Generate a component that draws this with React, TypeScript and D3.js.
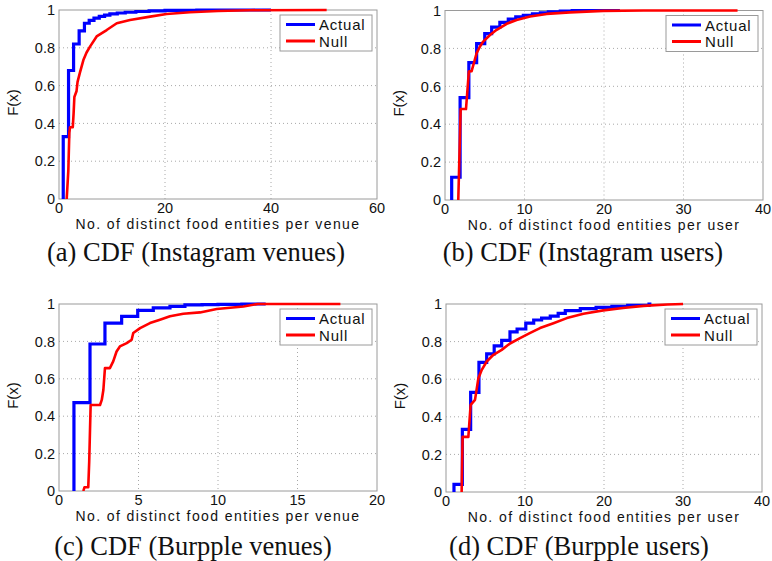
import React from "react";
import * as d3 from "d3";

// ---------- data ----------
const yTicks = [0, 0.2, 0.4, 0.6, 0.8, 1];
const yTickLabels = ["0", "0.2", "0.4", "0.6", "0.8", "1"];

const aXTicks = [0, 20, 40, 60];
const aActualX = [0.8, 1.8, 2.75, 3.8, 4.8, 5.7, 6.6, 7.6, 8.6, 9.6, 11, 12.5, 14.5, 17, 20, 26, 40];
const aActualY = [0.33, 0.68, 0.82, 0.89, 0.93, 0.945, 0.957, 0.966, 0.973, 0.979, 0.984, 0.988, 0.992, 0.995, 0.998, 1.0, 1.0];
const aNullX = [1.45, 1.76, 1.95, 2.08, 2.6, 2.75, 2.9, 3.3, 3.5, 3.96, 4.6, 5.2, 5.85, 7.1, 9.0, 10.9, 13.4, 17.2, 20.3, 24.7, 30, 36, 50.5];
const aNullY = [0, 0.15, 0.35, 0.38, 0.38, 0.45, 0.54, 0.57, 0.62, 0.67, 0.735, 0.775, 0.806, 0.86, 0.894, 0.93, 0.947, 0.965, 0.979, 0.988, 0.995, 0.999, 1.0];

const bXTicks = [0, 10, 20, 30, 40];
const bActualX = [0.84, 1.9, 3.0, 3.98, 5.0, 5.87, 6.9, 7.96, 8.9, 9.85, 11, 12, 13, 14.5, 16, 22];
const bActualY = [0.12, 0.54, 0.725, 0.825, 0.878, 0.912, 0.937, 0.955, 0.966, 0.975, 0.982, 0.988, 0.993, 0.997, 1.0, 1.0];
const bNullX = [1.67, 1.97, 2.64, 3.0, 3.35, 3.98, 4.4, 4.8, 5.66, 6.5, 7.76, 9.0, 10.7, 12.8, 15.7, 19.9, 25, 36.8];
const bNullY = [0, 0.48, 0.48, 0.678, 0.68, 0.775, 0.81, 0.836, 0.871, 0.898, 0.93, 0.95, 0.968, 0.982, 0.99, 0.998, 1.0, 1.0];

const cXTicks = [0, 5, 10, 15, 20];
const cActualX = [0.94, 1.95, 2.89, 3.94, 4.95, 5.93, 6.98, 7.92, 9, 10, 11.5, 13];
const cActualY = [0.473, 0.786, 0.898, 0.934, 0.966, 0.979, 0.987, 0.995, 0.997, 0.998, 1.0, 1.0];
const cNullX = [1.53, 1.6, 1.84, 1.9, 1.99, 2.58, 2.69, 2.79, 2.89, 3.2, 3.41, 3.62, 3.83, 4.26, 4.57, 4.67, 5.1, 5.72, 6.35, 6.98, 7.82, 8.87, 9.92, 11.6, 12.5, 17.7];
const cNullY = [0, 0.02, 0.02, 0.157, 0.46, 0.46, 0.487, 0.54, 0.657, 0.657, 0.693, 0.746, 0.773, 0.791, 0.809, 0.845, 0.871, 0.898, 0.916, 0.934, 0.948, 0.955, 0.973, 0.987, 1.0, 1.0];

const dXTicks = [0, 10, 20, 30, 40];
const dActualX = [1.01, 2.07, 3.12, 4.17, 5.15, 6.1, 7.05, 8.1, 9.0, 10.1, 11.1, 12.1, 13.2, 14.2, 15.1, 17, 19, 21, 23, 25.7, 26];
const dActualY = [0.041, 0.333, 0.53, 0.69, 0.735, 0.777, 0.806, 0.852, 0.867, 0.898, 0.915, 0.925, 0.935, 0.95, 0.965, 0.975, 0.982, 0.987, 0.993, 1.0, 1.0];
const dNullX = [1.98, 2.1, 2.83, 3.12, 3.67, 4.1, 4.53, 5.15, 6.0, 7.05, 8.1, 9.37, 10.6, 11.9, 13.6, 15.3, 17.4, 19.9, 22.4, 25, 28, 30];
const dNullY = [0, 0.293, 0.293, 0.463, 0.49, 0.605, 0.65, 0.694, 0.73, 0.756, 0.79, 0.818, 0.845, 0.872, 0.898, 0.925, 0.948, 0.966, 0.979, 0.99, 0.997, 1.0];

const seriesNames = ["Actual", "Null"];
const xLabelVenue = "No. of distinct food entities per venue";
const xLabelUser = "No. of distinct food entities per user";
const captions = [
  "(a) CDF (Instagram venues)",
  "(b) CDF (Instagram users)",
  "(c) CDF (Burpple venues)",
  "(d) CDF (Burpple users)",
];

// ---------- styling ----------
const SANS = "'Liberation Sans', Arial, Helvetica, sans-serif";
const SERIF = "'Liberation Serif', 'Times New Roman', serif";
const BLUE = "#0000ff";
const RED = "#ff0000";
const INK = "#111";

type PanelProps = {
  left: number; right: number; top: number; bottom: number;
  xMax: number; xTicks: number[];
  actualX: number[]; actualY: number[];
  nullX: number[]; nullY: number[];
  xLabel: string; caption: string; capX: number; capY: number; yLabelX: number;
};

function Panel(p: PanelProps) {
  const x = d3.scaleLinear().domain([0, p.xMax]).range([p.left, p.right]);
  const y = d3.scaleLinear().domain([0, 1]).range([p.bottom, p.top]);
  const actualPts: [number, number][] = [[p.actualX[0], 0], ...p.actualX.map((v, i) => [v, p.actualY[i]] as [number, number])];
  const nullPts: [number, number][] = p.nullX.map((v, i) => [v, p.nullY[i]]);
  const stepLine = d3.line<[number, number]>().x(d => x(d[0])).y(d => y(d[1])).curve(d3.curveStepAfter);
  const linLine = d3.line<[number, number]>().x(d => x(d[0])).y(d => y(d[1]));
  const lgRight = p.right - 5;
  const lgLeft = lgRight - 92;
  const lgTop = p.top + 5;
  const lgH = 36;
  const cx = (p.left + p.right) / 2;
  const cy = (p.top + p.bottom) / 2;
  const clipId = "clip" + Math.round(p.left) + "_" + Math.round(p.top);
  return (
    <g>
      <rect x={p.left} y={p.top} width={p.right - p.left} height={p.bottom - p.top} fill="#fff" />
      {p.xTicks.slice(1, -1).map(t => (
        <line key={"gx" + t} x1={x(t)} x2={x(t)} y1={p.top} y2={p.bottom} stroke="#a8a8a8" strokeWidth={1} strokeDasharray="1,3" />
      ))}
      {yTicks.slice(1, -1).map(t => (
        <line key={"gy" + t} x1={p.left} x2={p.right} y1={y(t)} y2={y(t)} stroke="#a8a8a8" strokeWidth={1} strokeDasharray="1,3" />
      ))}
      <rect x={p.left} y={p.top} width={p.right - p.left} height={p.bottom - p.top} fill="none" stroke="#9a9a9a" strokeWidth={1} />
      <defs>
        <clipPath id={clipId}>
          <rect x={p.left - 2} y={p.top - 3} width={p.right - p.left + 4} height={p.bottom - p.top + 3} />
        </clipPath>
      </defs>
      <g clipPath={`url(#${clipId})`}>
        <path d={stepLine(actualPts) || ""} fill="none" stroke={BLUE} strokeWidth={3.2} />
        <path d={linLine(nullPts) || ""} fill="none" stroke={RED} strokeWidth={2.6} strokeLinejoin="round" />
      </g>
      {yTicks.map((t, i) => (
        <text key={"yt" + t} x={p.left - 4} y={y(t)} dy="0.36em" textAnchor="end" fontFamily={SANS} fontSize={14.5} fill={INK}>
          {yTickLabels[i]}
        </text>
      ))}
      {p.xTicks.map(t => (
        <text key={"xt" + t} x={x(t)} y={p.bottom + 13.5} textAnchor="middle" fontFamily={SANS} fontSize={14.5} fill={INK}>
          {t}
        </text>
      ))}
      <text x={cx} y={p.bottom + 29.5} textAnchor="middle" fontFamily={SANS} fontSize={14} letterSpacing={1.4} fill={INK}>
        {p.xLabel}
      </text>
      <text transform={`translate(${p.yLabelX},${cy - 2}) rotate(-90)`} textAnchor="middle" fontFamily={SANS} fontSize={15} fill={INK}>
        F(x)
      </text>
      <rect x={lgLeft} y={lgTop} width={lgRight - lgLeft} height={lgH} fill="#fff" stroke="#9a9a9a" strokeWidth={1} />
      <line x1={lgLeft + 6} x2={lgLeft + 35} y1={lgTop + 9.5} y2={lgTop + 9.5} stroke={BLUE} strokeWidth={3} />
      <line x1={lgLeft + 6} x2={lgLeft + 35} y1={lgTop + 26} y2={lgTop + 26} stroke={RED} strokeWidth={3} />
      <text x={lgLeft + 39} y={lgTop + 15} fontFamily={SANS} fontSize={15} letterSpacing={0.8} fill={INK}>{seriesNames[0]}</text>
      <text x={lgLeft + 39} y={lgTop + 31.5} fontFamily={SANS} fontSize={15} letterSpacing={0.8} fill={INK}>{seriesNames[1]}</text>
      <text x={p.capX} y={p.capY} textAnchor="middle" fontFamily={SERIF} fontSize={26.5} fill={INK}>
        {p.caption}
      </text>
    </g>
  );
}

export default function App() {
  return (
    <svg width={772} height={561} style={{ position: "absolute", left: 0, top: 0, background: "#fff" }}>
      <rect width={772} height={561} fill="#fff" />
      <Panel left={59} right={377} top={10} bottom={199} xMax={60} xTicks={aXTicks}
        actualX={aActualX} actualY={aActualY} nullX={aNullX} nullY={aNullY}
        xLabel={xLabelVenue} caption={captions[0]} capX={196} capY={261} yLabelX={18} />
      <Panel left={445} right={763} top={10.5} bottom={200} xMax={40} xTicks={bXTicks}
        actualX={bActualX} actualY={bActualY} nullX={bNullX} nullY={bNullY}
        xLabel={xLabelUser} caption={captions[1]} capX={583} capY={261} yLabelX={404} />
      <Panel left={59} right={377} top={304} bottom={491} xMax={20} xTicks={cXTicks}
        actualX={cActualX} actualY={cActualY} nullX={cNullX} nullY={cNullY}
        xLabel={xLabelVenue} caption={captions[2]} capX={193} capY={555} yLabelX={18} />
      <Panel left={446} right={762} top={304} bottom={492} xMax={40} xTicks={dXTicks}
        actualX={dActualX} actualY={dActualY} nullX={dNullX} nullY={dNullY}
        xLabel={xLabelUser} caption={captions[3]} capX={579} capY={555} yLabelX={405} />
    </svg>
  );
}
